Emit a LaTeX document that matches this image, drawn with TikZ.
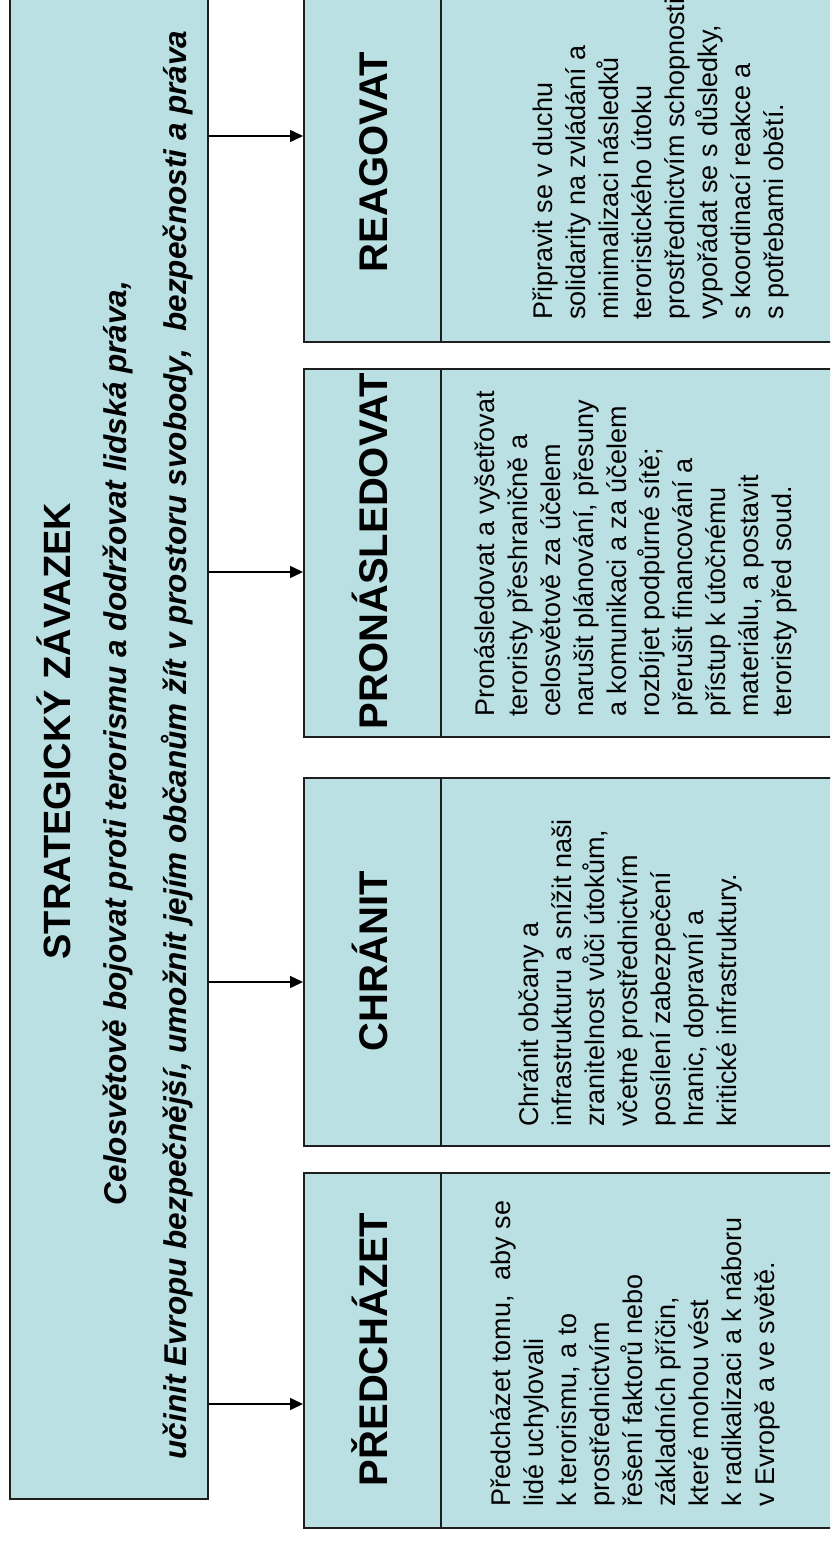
\documentclass[tikz,border=0pt]{standalone}
\usepackage{fontspec}
\setmainfont{Liberation Sans}
\usetikzlibrary{arrows.meta}
\definecolor{boxfill}{RGB}{187,224,227}
\definecolor{edge}{RGB}{30,30,30}
\begin{document}
\begin{tikzpicture}[x=1pt,y=1pt,
  box/.style={draw=edge, line width=1.5pt, fill=boxfill, inner sep=0pt, anchor=north west},
  arr/.style={-{Triangle[length=13pt,width=12pt]}, line width=1.5pt, draw=black},
  head/.style={rotate=90, anchor=base, inner sep=0pt, font=\fontsize{40}{48}\selectfont\bfseries},
  body/.style={rotate=90, anchor=north west, inner sep=0pt, align=left, font=\fontsize{27}{33}\selectfont},
  ttl/.style={rotate=90, anchor=base, inner sep=0pt, font=\fontsize{38}{46}\selectfont\bfseries},
  sub/.style={rotate=90, anchor=base, inner sep=0pt, font=\fontsize{31.5}{38}\selectfont\bfseries\itshape}]
\useasboundingbox (0,0) rectangle (830,-1541);
\clip (0,0) rectangle (830,-1541);
% main box
\node[box, minimum width=198pt, minimum height=1520pt] (main) at (9,22) {};
\node[ttl] (title) at (70,-731) {STRATEGICKÝ ZÁVAZEK};
\node[sub] (sub1) at (126,-743) {Celosvětově bojovat proti terorismu a dodržovat lidská práva,};
\node[sub] (sub2) at (186,-745) {učinit Evropu bezpečnější, umožnit jejím občanům žít v prostoru svobody,\ \ bezpečnosti a práva};
% PŘEDCHÁZET
\node[box, minimum width=137pt, minimum height=355pt] (headP) at (303,-1172) {};
\node[box, minimum width=400pt, minimum height=355pt] (bodyP) at (440,-1172) {};
\node[head] (labP) at (387,-1349.5) {PŘEDCHÁZET};
\node[body] (txtP) at (487,-1507) {\strut Předcházet tomu,\ \ aby se\\lidé uchylovali\\k terorismu, a to\\prostřednictvím\\řešení faktorů nebo\\základních příčin,\\které mohou vést\\k radikalizaci a k náboru\\v Evropě a ve světě.};
% CHRÁNIT
\node[box, minimum width=137pt, minimum height=368pt] (headC) at (303,-777) {};
\node[box, minimum width=400pt, minimum height=368pt] (bodyC) at (440,-777) {};
\node[head] (labC) at (387,-961) {CHRÁNIT};
\node[body] (txtC) at (515,-1127) {\strut Chránit občany a\\infrastrukturu a snížit naši\\zranitelnost vůči útokům,\\včetně prostřednictvím\\posílení zabezpečení\\hranic, dopravní a\\kritické infrastruktury.};
% PRONÁSLEDOVAT
\node[box, minimum width=137pt, minimum height=368pt] (headN) at (303,-368) {};
\node[box, minimum width=400pt, minimum height=368pt] (bodyN) at (440,-368) {};
\node[head] (labN) at (387,-551) {PRONÁSLEDOVAT};
\node[body] (txtN) at (471,-717) {\strut Pronásledovat a vyšetřovat\\teroristy přeshraničně a\\celosvětově za účelem\\narušit plánování, přesuny\\a komunikaci a za účelem\\rozbíjet podpůrné sítě;\\přerušit financování a\\přístup k útočnému\\materiálu, a postavit\\teroristy před soud.};
% REAGOVAT
\node[box, minimum width=137pt, minimum height=361pt] (headR) at (303,20) {};
\node[box, minimum width=400pt, minimum height=361pt] (bodyR) at (440,20) {};
\node[head] (labR) at (387,-162) {REAGOVAT};
\node[body] (txtR) at (529,-320) {\strut Připravit se v duchu\\solidarity na zvládání a\\minimalizaci následků\\teroristického útoku\\prostřednictvím schopnosti\\vypořádat se s důsledky,\\s koordinací reakce a\\s potřebami obětí.};
% arrows
\coordinate (aP) at (0,-1404);
\coordinate (aC) at (0,-982);
\coordinate (aN) at (0,-572);
\coordinate (aR) at (0,-136);
\draw[arr] (main.east |- aP) -- (headP.west |- aP);
\draw[arr] (main.east |- aC) -- (headC.west |- aC);
\draw[arr] (main.east |- aN) -- (headN.west |- aN);
\draw[arr] (main.east |- aR) -- (headR.west |- aR);
\end{tikzpicture}
\end{document}
